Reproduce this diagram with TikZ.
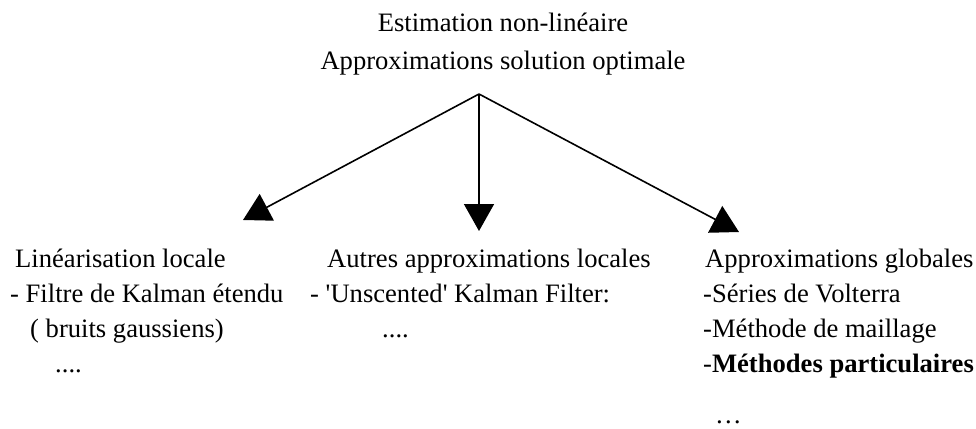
\documentclass[tikz,border=0pt]{standalone}
\usepackage{fontspec}
\setmainfont{Liberation Serif}
\usetikzlibrary{arrows.meta}
\begin{document}
\begin{tikzpicture}[x=1pt,y=-1pt,
  txt/.style={inner sep=0pt,anchor=base west,font=\fontsize{26.6pt}{32pt}\selectfont},
  ttl/.style={inner sep=0pt,anchor=base,font=\fontsize{26.6pt}{32pt}\selectfont},
  conn/.style={line width=1.6pt,-{Triangle[length=27pt,width=30pt]}}]
\useasboundingbox (0,0) rectangle (976,428);
% title
\node[ttl] (t1) at (503,31.5) {Estimation non-linéaire};
\node[ttl] (t2) at (503,70) {Approximations solution optimale};
% connectors
\coordinate (apex) at (479,94);
\coordinate (tipL) at (243,220);
\coordinate (tipM) at (479,231);
\coordinate (tipR) at (739,232);
\draw[conn] (apex) -- (tipL);
\draw[conn] (apex) -- (tipM);
\draw[conn] (apex) -- (tipR);
% left column
\node[txt] (l1) at (15,267) {Linéarisation locale};
\node[txt] (l2) at (10,302.5) {- Filtre de Kalman étendu};
\node[txt] (l3) at (30,337.5) {( bruits gaussiens)};
\node[txt] (l4) at (55,372.5) {....};
% middle column
\node[txt] (m1) at (327,267) {Autres approximations locales};
\node[txt] (m2) at (310,302.5) {- \textquotesingle Unscented\textquotesingle{} Kalman Filter:};
\node[txt] (m3) at (382,337.5) {....};
% right column
\node[txt] (r1) at (705,267) {Approximations globales};
\node[txt] (r2) at (703,302.5) {-Séries de Volterra};
\node[txt] (r3) at (703,337.5) {-Méthode de maillage};
\node[txt] (r4) at (703,372.5) {-\textbf{Méthodes particulaires}};
\node[txt] (r5) at (715,423) {…};
\end{tikzpicture}
\end{document}
